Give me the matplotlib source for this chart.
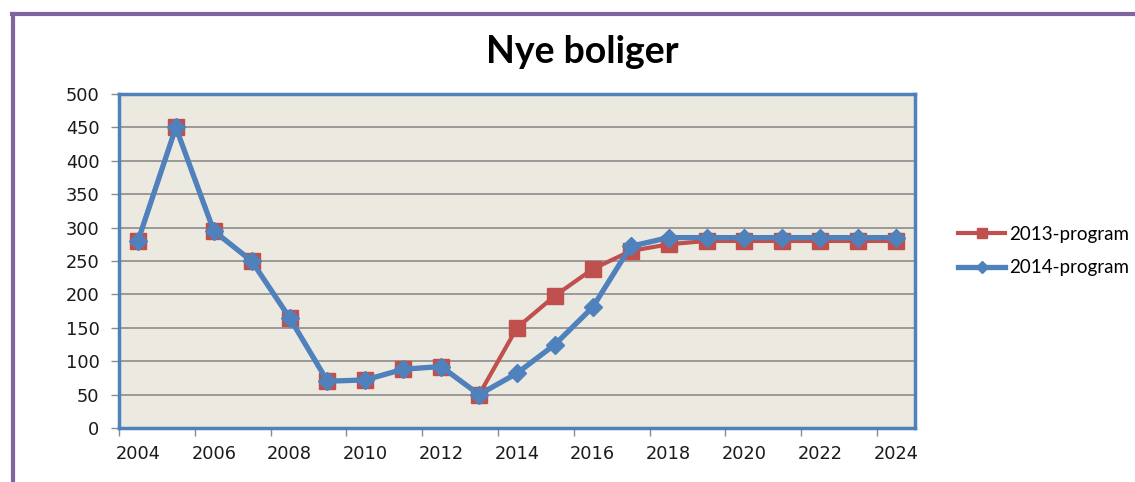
import numpy as np
import matplotlib.pyplot as plt
from matplotlib.lines import Line2D

# Data (Nye boliger)
aar = list(range(2004, 2025))
program_2013 = [280, 450, 295, 250, 165, 70, 72, 88, 92, 50,
                150, 198, 238, 265, 275, 280, 280, 280, 280, 280, 280]
program_2014 = [280, 450, 295, 250, 165, 70, 72, 88, 92, 50,
                82, 125, 181, 272, 285, 285, 285, 285, 285, 285, 285]

rod = '#C0504D'
bla = '#4F81BD'

fig = plt.figure(figsize=(11.35, 4.82), dpi=100)
ax = fig.add_axes([119/1135, 1 - 428/482, 796/1135, 334/482])
ax.set_facecolor('#ECE9E0')

x = np.arange(len(aar))
ax.plot(x, program_2013, color=rod, lw=3, marker='s', ms=11.5, mfc=rod, mec=rod,
        label='2013-program', zorder=3, clip_on=False)
ax.plot(x, program_2014, color=bla, lw=3.8, marker='D', ms=9.5, mfc=bla, mec=bla,
        label='2014-program', zorder=4, clip_on=False)

ax.set_xlim(-0.5, len(aar) - 0.5)
ax.set_ylim(0, 500)
ax.set_yticks(range(0, 501, 50))
ax.grid(axis='y', color='#8C8C8C', lw=1.2)
ax.set_axisbelow(True)

# kategori-akse: merker mellom kategoriene, etiketter midt i
ax.set_xticks(x[::2])
ax.set_xticklabels([str(a) for a in aar[::2]])
ax.set_xticks(np.arange(-0.5, len(aar) - 1, 2), minor=True)
ax.tick_params(axis='x', which='major', length=0, pad=12)
ax.tick_params(axis='x', which='minor', length=6, width=1, color='#8C8C8C',
               direction='out')
ax.tick_params(axis='y', length=6, width=1, color='#8C8C8C', pad=8)
ax.tick_params(labelsize=12.8, labelcolor='#1a1a1a')

for s in ax.spines.values():
    s.set_color(bla)
    s.set_linewidth(2.5)

fig.text(582/1135, 1 - 52/482, 'Nye boliger', ha='center', va='center',
         fontsize=27, fontweight='bold', family='Lato')

ax.legend(loc='center left', bbox_to_anchor=(1.033, 0.53), frameon=False,
          prop={'family': 'Lato', 'size': 13.5}, handlelength=2.5,
          handletextpad=0.2, labelspacing=0.9, markerscale=0.65)

# lilla ramme
fig.add_artist(Line2D([13/1135, 13/1135], [0, 1 - 14/482], color='#8064A2',
                      lw=3, transform=fig.transFigure))
fig.add_artist(Line2D([12/1135, 1], [1 - 14/482, 1 - 14/482], color='#8064A2',
                      lw=3, transform=fig.transFigure))

fig.savefig('out.png', dpi=100)
